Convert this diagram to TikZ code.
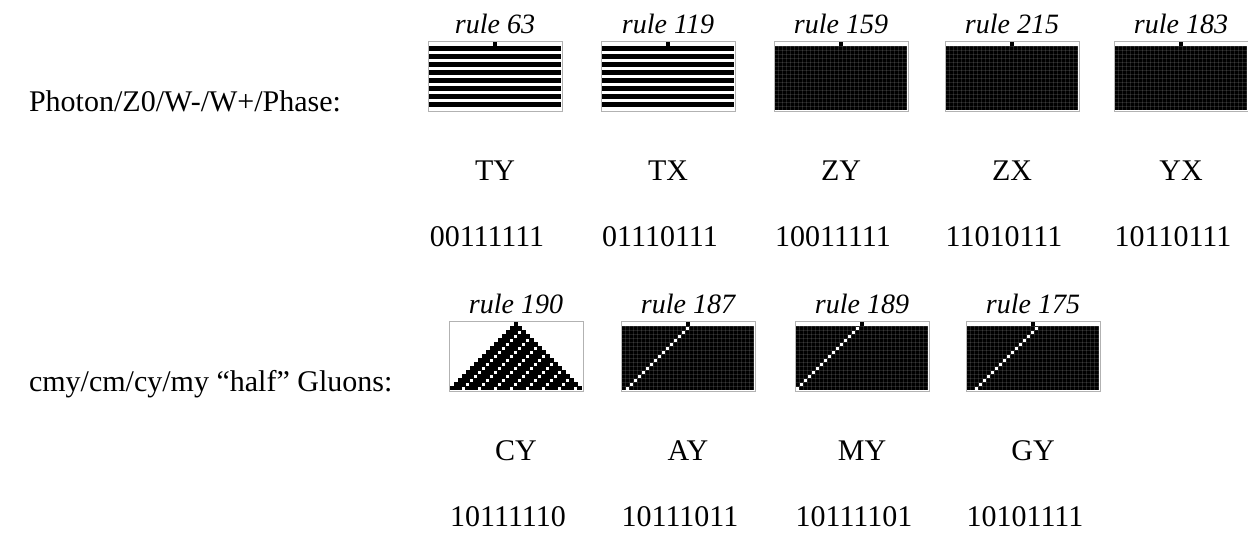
\documentclass[tikz,border=0pt]{standalone}
\usepackage{fontspec}
\setmainfont{Liberation Serif}

% cell pictures, drawn from the panel's north west corner, y going down
% 33 cells of 4 units across, 17 rows of 4 units down
\newcommand{\seed}{\fill[black] (65,1) rectangle (69,5);}
\newcommand{\mesh}{%
  \foreach \c in {0,...,33} \draw[mesh line] (1+4*\c,5) -- (1+4*\c,69);
  \foreach \r in {1,...,17} \draw[mesh line] (1,1+4*\r) -- (133,1+4*\r);}
\newcommand{\stripes}{\seed
  \foreach \r in {1,3,...,15} \fill[black] (1,0.6+4*\r) rectangle (133,5.4+4*\r);}
\newcommand{\solid}{\seed
  \fill[black] (1,5) rectangle (133,69);
  \mesh}
\newcommand{\slant}[1]{\solid
  \foreach \r in {1,...,16}
    \fill[white] (65.6+4*#1-4*\r,1.6+4*\r) rectangle (68.4+4*#1-4*\r,4.4+4*\r);}
\newcommand{\pyramid}{\seed
  \foreach \r in {1,...,16} \fill[black] (65-4*\r,1+4*\r) rectangle (69+4*\r,5+4*\r);
  \foreach \j in {1,...,8} {\pgfmathtruncatemacro\rs{2*\j}
    \foreach \r in {\rs,...,16}
      \fill[white] (65.6+16*\j-4-4*\r,1.6+4*\r) rectangle (68.4+16*\j-4-4*\r,4.4+4*\r);}}
% name, centre, cells, caption
\newcommand{\capanel}[4]{%
  \node[panel] (#1) at (#2) {};
  \begin{scope}[shift={(#1.north west)},yscale=-1] #3 \end{scope}
  \node[rule text] (#1r) [above of=#1] {#4};}

\begin{document}
\begin{tikzpicture}[x=0.5pt,y=0.5pt,node distance=47pt,
    panel/.style={rectangle,draw=black!30,line width=0.5pt,inner sep=0pt,
                  minimum width=67pt,minimum height=35pt},
    mesh line/.style={white,opacity=0.12,line width=0.25pt},
    rule text/.style={font=\fontsize{14}{16}\selectfont\itshape,node distance=26.5pt},
    side text/.style={font=\fontsize{15}{18}\selectfont,anchor=base west},
    name text/.style={font=\fontsize{15}{18}\selectfont},
    code text/.style={font=\fontsize{15}{18}\selectfont,node distance=33pt,xshift=-4pt}]
  \useasboundingbox (0,0) rectangle (1248,534);

  \node[side text] (photon) at (22,422) {Photon/Z0/W-/W+/Phase:};
  \node[side text] (gluon)  at (22,142) {cmy/cm/cy/my “half” Gluons:};

  \capanel{p63}{495,457}{\stripes}{rule 63}
  \capanel{p119}{668,457}{\stripes}{rule 119}
  \capanel{p159}{841,457}{\solid}{rule 159}
  \capanel{p215}{1012,457}{\solid}{rule 215}
  \capanel{p183}{1181,457}{\solid}{rule 183}

  \capanel{p190}{516,177}{\pyramid}{rule 190}
  \capanel{p187}{688,177}{\slant{1}}{rule 187}
  \capanel{p189}{862,177}{\slant{0}}{rule 189}
  \capanel{p175}{1033,177}{\slant{2}}{rule 175}

  \node[name text] (ty) [below of=p63]  {TY};
  \node[name text] (tx) [below of=p119] {TX};
  \node[name text] (zy) [below of=p159] {ZY};
  \node[name text] (zx) [below of=p215] {ZX};
  \node[name text] (yx) [below of=p183] {YX};
  \node[code text] (c63)  [below of=ty] {00111111};
  \node[code text] (c119) [below of=tx] {01110111};
  \node[code text] (c159) [below of=zy] {10011111};
  \node[code text] (c215) [below of=zx] {11010111};
  \node[code text] (c183) [below of=yx] {10110111};

  \node[name text] (cy) [below of=p190] {CY};
  \node[name text] (ay) [below of=p187] {AY};
  \node[name text] (my) [below of=p189] {MY};
  \node[name text] (gy) [below of=p175] {GY};
  \node[code text] (c190) [below of=cy] {10111110};
  \node[code text] (c187) [below of=ay] {10111011};
  \node[code text] (c189) [below of=my] {10111101};
  \node[code text] (c175) [below of=gy] {10101111};
\end{tikzpicture}
\end{document}
